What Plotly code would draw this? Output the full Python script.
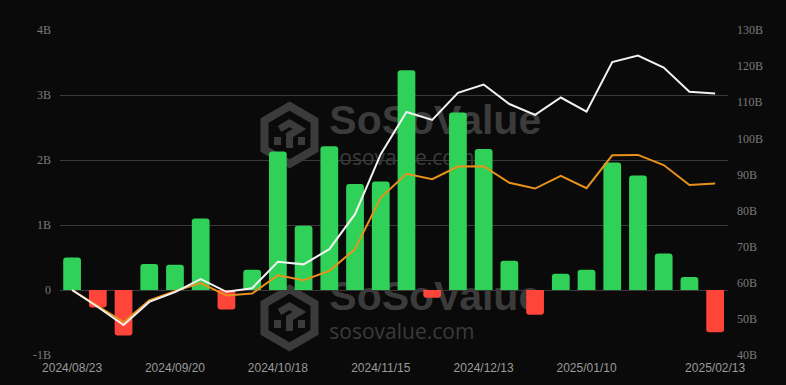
import plotly.graph_objects as go

dates = ["2024/08/23", "2024/08/30", "2024/09/06", "2024/09/13", "2024/09/20", "2024/09/27",
         "2024/10/04", "2024/10/11", "2024/10/18", "2024/10/25", "2024/11/01", "2024/11/08",
         "2024/11/15", "2024/11/22", "2024/11/29", "2024/12/06", "2024/12/13", "2024/12/20",
         "2024/12/27", "2025/01/03", "2025/01/10", "2025/01/17", "2025/01/24", "2025/01/31",
         "2025/02/07", "2025/02/13"]

# weekly net inflow (billions USD), left axis
net_inflow = [0.50, -0.27, -0.70, 0.40, 0.39, 1.10, -0.30, 0.31, 2.13, 0.99, 2.21, 1.63,
              1.67, 3.38, -0.12, 2.73, 2.17, 0.45, -0.38, 0.25, 0.31, 1.96, 1.76, 0.56,
              0.20, -0.65]

# right axis series (billions USD)
total_assets = [58.0, 53.3, 48.3, 54.7, 57.4, 61.0, 57.5, 58.5, 65.8, 65.1, 69.3, 79.0,
                95.6, 107.3, 105.1, 112.6, 114.9, 109.5, 106.5, 111.3, 107.4, 121.1, 122.9,
                119.6, 112.9, 112.4]
cum_inflow = [58.0, 53.6, 49.1, 55.1, 57.7, 59.9, 56.5, 57.0, 62.1, 60.7, 63.3, 69.3,
              83.6, 90.2, 88.7, 92.2, 92.3, 87.7, 86.1, 89.6, 86.2, 95.3, 95.4, 92.6,
              87.1, 87.5]

left_ticks = [4, 3, 2, 1, 0, -1]
left_labels = ["4B", "3B", "2B", "1B", "0", "-1B"]
right_ticks = [130, 120, 110, 100, 90, 80, 70, 60, 50, 40]
right_labels = ["130B", "120B", "110B", "100B", "90B", "80B", "70B", "60B", "50B", "40B"]
x_tick_labels = ["2024/08/23", "2024/09/20", "2024/10/18", "2024/11/15", "2024/12/13",
                 "2025/01/10", "2025/02/13"]

GREEN = "#30D158"
RED = "#FF453A"
BG = "#0a0a0a"
WM = "#3b3b3b"

W, H = 786, 385
L, R, T, B = 60, 58, 30, 30


def px(x):
    return (x - L) / (W - L - R)


def py(y):
    return (H - B - y) / (H - T - B)


fig = go.Figure()

# watermark text on the base subplot (beneath the overlaid bars and lines)
fig.add_trace(go.Scatter(
    x=[dates[10], dates[10], dates[10], dates[10]],
    y=[2.56, 2.0, -0.15, -0.68],
    mode="text",
    text=["SoSoValue", "sosovalue.com", "SoSoValue", "sosovalue.com"],
    textposition="middle right",
    textfont=dict(family=["Liberation Sans", "Open Sans", "Liberation Sans", "Open Sans"],
                  size=[41, 21, 41, 21], color=WM,
                  weight=["bold", "normal", "bold", "normal"]),
    hoverinfo="skip", showlegend=False, cliponaxis=False,
))

fig.add_trace(go.Bar(
    x=dates, y=net_inflow, yaxis="y2",
    marker=dict(color=[GREEN if v >= 0 else RED for v in net_inflow], cornerradius=3,
                line=dict(width=0)),
    showlegend=False,
))

fig.add_trace(go.Scatter(
    x=dates, y=cum_inflow, yaxis="y3", mode="lines",
    line=dict(color="#E8921C", width=2), showlegend=False,
))
fig.add_trace(go.Scatter(
    x=dates, y=total_assets, yaxis="y3", mode="lines",
    line=dict(color="#F2F2F2", width=2), showlegend=False,
))

# watermark logos (hexagon cube icon)
shapes = []
for cy in (135, 318):
    cx = 289.5
    hw, hh = 25, 29
    pts = [(cx, cy - hh), (cx + hw, cy - hh / 2), (cx + hw, cy + hh / 2), (cx, cy + hh),
           (cx - hw, cy + hh / 2), (cx - hw, cy - hh / 2)]
    path = "M " + " L ".join(f"{px(a):.5f},{py(b):.5f}" for a, b in pts) + " Z"
    shapes.append(dict(type="path", path=path, xref="paper", yref="paper",
                       line=dict(color=WM, width=8), fillcolor="rgba(0,0,0,0)", layer="below"))
    inner = [(cx - 10, cy - 6), (cx, cy - 12), (cx + 10, cy - 6), (cx, cy), (cx, cy + 13)]
    path2 = "M " + " L ".join(f"{px(a):.5f},{py(b):.5f}" for a, b in inner)
    shapes.append(dict(type="path", path=path2, xref="paper", yref="paper",
                       line=dict(color=WM, width=7), layer="below"))
    for sx in (-12, 12):
        seg = [(cx + sx, cy + 2), (cx + sx, cy + 10)]
        shapes.append(dict(type="path",
                           path="M " + " L ".join(f"{px(a):.5f},{py(b):.5f}" for a, b in seg),
                           xref="paper", yref="paper", line=dict(color=WM, width=7),
                           layer="below"))

fig.update_layout(
    width=W, height=H,
    margin=dict(l=L, r=R, t=T, b=B, pad=0, autoexpand=False),
    paper_bgcolor=BG, plot_bgcolor=BG,
    bargap=0.31,
    shapes=shapes,
    xaxis=dict(
        type="category", categoryorder="array", categoryarray=dates,
        range=[-0.47, 25.5], automargin=False,
        tickmode="array", tickvals=x_tick_labels, ticktext=x_tick_labels,
        showgrid=False, zeroline=False, showline=False, ticks="",
        tickfont=dict(family="Liberation Sans", size=12, color="#9a9a9a"),
        ticklabelstandoff=4,
    ),
    yaxis=dict(range=[-1, 4], visible=False, showgrid=False, zeroline=False,
               automargin=False),
    yaxis2=dict(
        range=[-1, 4], overlaying="y", side="left", automargin=False,
        tickmode="array", tickvals=left_ticks, ticktext=left_labels,
        showgrid=True, gridcolor="#3a3a3a", gridwidth=1,
        zeroline=True, zerolinecolor="#3a3a3a", zerolinewidth=1,
        ticks="", showline=False,
        tickfont=dict(family="Liberation Serif", size=12, color="#7a7a7a"),
        ticklabelstandoff=8,
    ),
    yaxis3=dict(
        range=[40, 130], overlaying="y", side="right", automargin=False,
        tickmode="array", tickvals=right_ticks, ticktext=right_labels,
        showgrid=False, zeroline=False, showline=False, ticks="",
        tickfont=dict(family="Liberation Serif", size=12, color="#7a7a7a"),
        ticklabelstandoff=8,
    ),
)

fig.write_html("out.html")
